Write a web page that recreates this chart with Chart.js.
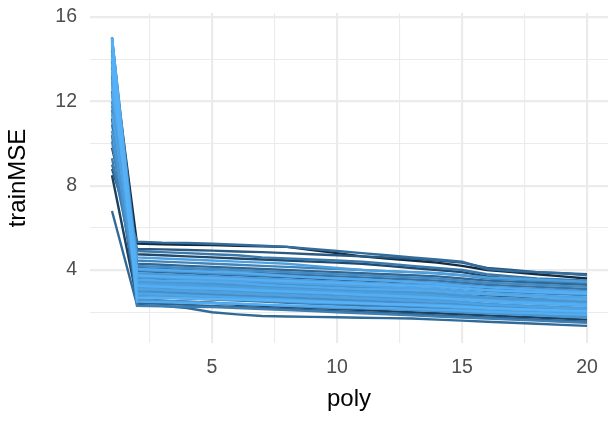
<!DOCTYPE html>
<html>
<head>
<meta charset="utf-8">
<script src="https://cdn.jsdelivr.net/npm/chart.js@4"></script>
<style>
  html, body { margin: 0; padding: 0; background: #fff; }
  #wrap { width: 608px; height: 421px; position: relative; }
</style>
</head>
<body>
<div id="wrap"><canvas id="chart"></canvas></div>
<script>
// polynomial degree on the x axis
const poly = [1, 2, 3, 4, 5, 6, 7, 8, 9, 10, 11, 12, 13, 14, 15, 16, 17, 18, 19, 20];

// training MSE, one row per simulation run
const trainMSE = [
  [14.4, 5.25, 5.22, 5.2, 5.18, 5.15, 5.12, 5.1, 4.95, 4.8, 4.65, 4.55, 4.45, 4.35, 4.2, 4.0, 3.9, 3.8, 3.7, 3.6],
  [8.5, 2.6, 2.55, 2.5, 2.45, 2.35, 2.3, 2.25, 2.2, 2.15, 2.1, 2.05, 2.0, 1.95, 1.9, 1.85, 1.8, 1.75, 1.7, 1.65],
  [9.8, 4.75, 4.7, 4.65, 4.6, 4.55, 4.5, 4.45, 4.4, 4.35, 4.3, 4.2, 4.1, 4.0, 3.9, 3.7, 3.6, 3.5, 3.45, 3.4],
  [13.9, 3.6, 3.55, 3.5, 3.45, 3.4, 3.35, 3.3, 3.25, 3.2, 3.15, 3.1, 3.05, 3.0, 2.9, 2.8, 2.75, 2.7, 2.65, 2.6],
  [11.2, 2.9, 2.85, 2.8, 2.75, 2.7, 2.55, 2.5, 2.45, 2.4, 2.35, 2.3, 2.25, 2.2, 2.1, 2.05, 2.0, 1.95, 1.9, 1.85],
  [8.8, 5.0, 4.98, 4.95, 4.92, 4.88, 4.85, 4.8, 4.75, 4.7, 4.65, 4.6, 4.55, 4.45, 4.35, 4.1, 4.0, 3.9, 3.85, 3.8],
  [12.5, 3.95, 3.9, 3.85, 3.8, 3.75, 3.7, 3.65, 3.6, 3.55, 3.5, 3.45, 3.4, 3.35, 3.25, 3.15, 3.1, 3.05, 3.0, 2.9],
  [10.4, 2.45, 2.4, 2.35, 2.3, 2.25, 2.2, 2.15, 2.1, 2.05, 2.0, 1.95, 1.9, 1.85, 1.8, 1.75, 1.7, 1.65, 1.6, 1.55],
  [14.0, 4.3, 4.25, 4.2, 4.15, 4.1, 4.05, 4.0, 3.95, 3.9, 3.85, 3.8, 3.75, 3.7, 3.6, 3.5, 3.45, 3.4, 3.35, 3.3],
  [6.8, 2.35, 2.3, 2.2, 2.0, 1.9, 1.82, 1.8, 1.78, 1.76, 1.74, 1.72, 1.7, 1.65, 1.6, 1.55, 1.5, 1.45, 1.4, 1.35],
  [9.0, 5.35, 5.3, 5.28, 5.25, 5.2, 5.15, 5.1, 5.0, 4.9, 4.8, 4.7, 4.6, 4.5, 4.4, 4.05, 3.95, 3.9, 3.85, 3.75],
  [13.2, 3.1, 3.05, 3.0, 2.95, 2.9, 2.85, 2.8, 2.75, 2.7, 2.65, 2.6, 2.55, 2.5, 2.4, 2.3, 2.25, 2.2, 2.15, 2.1],
  [10.9, 4.1, 4.05, 4.0, 3.95, 3.9, 3.85, 3.8, 3.75, 3.7, 3.65, 3.6, 3.55, 3.5, 3.4, 3.3, 3.25, 3.2, 3.15, 3.1],
  [14.8, 2.75, 2.7, 2.65, 2.6, 2.55, 2.5, 2.45, 2.4, 2.35, 2.3, 2.25, 2.2, 2.15, 2.1, 2.0, 1.95, 1.9, 1.85, 1.8],
  [12.0, 4.9, 4.85, 4.8, 4.75, 4.7, 4.6, 4.55, 4.5, 4.45, 4.4, 4.3, 4.2, 4.1, 4.0, 3.8, 3.7, 3.6, 3.55, 3.5],
  [9.3, 3.45, 3.4, 3.35, 3.3, 3.25, 3.2, 3.15, 3.1, 3.05, 3.0, 2.95, 2.9, 2.85, 2.75, 2.65, 2.6, 2.55, 2.5, 2.45],
  [13.6, 2.3, 2.28, 2.26, 2.24, 2.2, 2.15, 2.1, 2.05, 2.0, 1.95, 1.9, 1.85, 1.8, 1.75, 1.7, 1.65, 1.6, 1.55, 1.5],
  [11.6, 3.8, 3.75, 3.7, 3.65, 3.6, 3.55, 3.5, 3.45, 3.4, 3.35, 3.3, 3.25, 3.2, 3.1, 3.0, 2.95, 2.9, 2.85, 2.8],
  [15.0, 4.45, 4.4, 4.35, 4.3, 4.25, 4.2, 4.15, 4.1, 4.05, 4.0, 3.95, 3.9, 3.85, 3.75, 3.6, 3.55, 3.5, 3.45, 3.4],
  [10.1, 2.95, 2.9, 2.85, 2.8, 2.75, 2.7, 2.65, 2.6, 2.55, 2.5, 2.45, 2.4, 2.35, 2.3, 2.2, 2.15, 2.1, 2.05, 2.0],
  [14.2, 3.35, 3.3, 3.25, 3.2, 3.15, 3.1, 3.05, 3.0, 2.95, 2.9, 2.85, 2.8, 2.75, 2.65, 2.55, 2.5, 2.45, 2.4, 2.35],
  [12.9, 4.2, 4.15, 4.1, 4.05, 4.0, 3.95, 3.9, 3.85, 3.8, 3.75, 3.7, 3.65, 3.6, 3.5, 3.4, 3.35, 3.3, 3.25, 3.2],
  [14.6, 3.0, 2.95, 2.9, 2.85, 2.8, 2.75, 2.7, 2.65, 2.6, 2.55, 2.5, 2.45, 2.4, 2.35, 2.25, 2.2, 2.15, 2.1, 2.05],
  [11.8, 3.65, 3.6, 3.55, 3.5, 3.45, 3.4, 3.35, 3.3, 3.25, 3.2, 3.15, 3.1, 3.05, 2.95, 2.85, 2.8, 2.75, 2.7, 2.65],
  [15.05, 4.0, 3.95, 3.9, 3.85, 3.8, 3.75, 3.7, 3.65, 3.6, 3.55, 3.5, 3.45, 3.4, 3.3, 3.2, 3.15, 3.1, 3.05, 3.0],
  [13.4, 2.6, 2.55, 2.5, 2.45, 2.4, 2.35, 2.3, 2.25, 2.2, 2.18, 2.15, 2.1, 2.05, 2.0, 1.95, 1.9, 1.85, 1.8, 1.75],
  [14.9, 3.5, 3.45, 3.4, 3.35, 3.3, 3.25, 3.2, 3.15, 3.1, 3.05, 3.0, 2.95, 2.9, 2.8, 2.7, 2.65, 2.6, 2.55, 2.5],
  [10.6, 3.2, 3.15, 3.1, 3.05, 3.0, 2.95, 2.9, 2.85, 2.8, 2.75, 2.7, 2.65, 2.6, 2.5, 2.4, 2.35, 2.3, 2.25, 2.2],
  [14.5, 3.85, 3.8, 3.75, 3.7, 3.65, 3.6, 3.55, 3.5, 3.45, 3.4, 3.35, 3.3, 3.25, 3.15, 3.05, 3.0, 2.95, 2.9, 2.85],
  [12.3, 2.8, 2.75, 2.7, 2.65, 2.6, 2.55, 2.5, 2.45, 2.42, 2.4, 2.35, 2.3, 2.25, 2.2, 2.1, 2.05, 2.0, 1.95, 1.9],
  [15.0, 3.4, 3.35, 3.3, 3.25, 3.2, 3.15, 3.1, 3.05, 3.0, 2.95, 2.9, 2.85, 2.8, 2.7, 2.6, 2.55, 2.5, 2.45, 2.4],
  [13.0, 4.6, 4.55, 4.5, 4.45, 4.4, 4.35, 4.3, 4.2, 4.1, 4.0, 3.95, 3.9, 3.85, 3.75, 3.65, 3.6, 3.55, 3.5, 3.45],
  [14.7, 3.1, 3.05, 3.0, 2.95, 2.9, 2.85, 2.8, 2.75, 2.7, 2.65, 2.6, 2.55, 2.5, 2.45, 2.35, 2.3, 2.25, 2.2, 2.15],
  [11.4, 3.7, 3.65, 3.6, 3.55, 3.5, 3.45, 3.4, 3.35, 3.3, 3.25, 3.2, 3.15, 3.1, 3.0, 2.9, 2.85, 2.8, 2.75, 2.7],
  [14.95, 2.9, 2.85, 2.8, 2.75, 2.7, 2.65, 2.6, 2.55, 2.5, 2.45, 2.4, 2.38, 2.35, 2.3, 2.2, 2.15, 2.1, 2.05, 2.0],
  [13.8, 3.3, 3.25, 3.2, 3.15, 3.1, 3.05, 3.0, 2.95, 2.9, 2.85, 2.8, 2.75, 2.7, 2.6, 2.5, 2.45, 2.4, 2.35, 2.3],
  [14.3, 3.55, 3.5, 3.48, 3.45, 3.4, 3.3, 3.25, 3.2, 3.15, 3.1, 3.08, 3.05, 3.0, 2.9, 2.85, 2.8, 2.72, 2.65, 2.6],
  [12.7, 4.05, 4.0, 3.96, 3.92, 3.88, 3.8, 3.72, 3.65, 3.6, 3.55, 3.5, 3.42, 3.35, 3.25, 3.18, 3.12, 3.06, 3.0, 2.95],
  [14.85, 2.5, 2.48, 2.45, 2.42, 2.4, 2.36, 2.32, 2.3, 2.26, 2.22, 2.2, 2.16, 2.12, 2.08, 2.02, 1.98, 1.95, 1.9, 1.88],
  [13.5, 3.25, 3.2, 3.15, 3.12, 3.08, 3.02, 2.98, 2.95, 2.9, 2.82, 2.78, 2.72, 2.66, 2.6, 2.55, 2.48, 2.44, 2.4, 2.36],
  [15.0, 3.75, 3.7, 3.66, 3.62, 3.58, 3.52, 3.48, 3.44, 3.4, 3.35, 3.3, 3.26, 3.22, 3.12, 3.05, 3.0, 2.96, 2.92, 2.88],
  [14.1, 2.7, 2.68, 2.65, 2.62, 2.6, 2.58, 2.54, 2.5, 2.46, 2.42, 2.38, 2.35, 2.3, 2.25, 2.2, 2.15, 2.12, 2.08, 2.05]
];

// grid positions (major ones get labels)
const xTicks = [2.5, 5, 7.5, 10, 12.5, 15, 17.5, 20];
const yTicks = [2, 4, 6, 8, 10, 12, 14, 16];

// ggplot-ish continuous colour scale, dark navy -> light blue
const lo = [19, 43, 67];
const hi = [86, 177, 247];
function shade(t) {
  const c = lo.map((v, k) => Math.round(v + (hi[k] - v) * t));
  return 'rgb(' + c.join(',') + ')';
}

const n = trainMSE.length;
const datasets = trainMSE.map((run, i) => ({
  data: poly.map((p, j) => ({ x: p, y: run[j] })),
  borderColor: shade(Math.pow(i / (n - 1), 0.5)),
  borderWidth: 2.4,
  pointRadius: 0,
  tension: 0,
  fill: false,
  order: n - i
}));

const font = "'Liberation Sans', Arial, Helvetica, sans-serif";
const gridColor = '#EBEBEB';

new Chart(document.getElementById('chart'), {
  type: 'line',
  data: { datasets },
  options: {
    responsive: true,
    maintainAspectRatio: false,
    animation: false,
    layout: { padding: { top: 13, right: 0, left: 0, bottom: 0 } },
    plugins: { legend: { display: false }, tooltip: { enabled: false } },
    scales: {
      x: {
        type: 'linear',
        min: 0.12,
        max: 20.84,
        afterBuildTicks: (s) => { s.ticks = xTicks.map(v => ({ value: v })); },
        afterFit: (s) => { s.height = 78; s.paddingLeft = 0; s.paddingRight = 0; },
        border: { display: false },
        grid: {
          color: gridColor,
          drawTicks: false,
          lineWidth: (ctx) => (ctx.tick && ctx.tick.value % 5 === 0 ? 2.2 : 1.1)
        },
        ticks: {
          autoSkip: false,
          maxRotation: 0,
          padding: 13,
          color: '#4D4D4D',
          font: { family: font, size: 19.5 },
          callback: (v) => (v % 5 === 0 ? String(v) : '')
        },
        title: {
          display: true,
          text: 'poly',
          color: '#000',
          font: { family: font, size: 24 },
          padding: { top: 0, bottom: 7 }
        }
      },
      y: {
        min: 0.54,
        max: 16.19,
        afterBuildTicks: (s) => { s.ticks = yTicks.map(v => ({ value: v })); },
        afterFit: (s) => { s.width = 90; s.paddingTop = 0; s.paddingBottom = 0; },
        border: { display: false },
        grid: {
          color: gridColor,
          drawTicks: false,
          lineWidth: (ctx) => (ctx.tick && ctx.tick.value % 4 === 0 ? 2.2 : 1.1)
        },
        ticks: {
          autoSkip: false,
          padding: 13,
          color: '#4D4D4D',
          font: { family: font, size: 19.5 },
          callback: (v) => (v % 4 === 0 ? String(v) : '')
        },
        title: {
          display: true,
          text: 'trainMSE',
          color: '#000',
          font: { family: font, size: 24 },
          padding: { top: 4, bottom: 0 }
        }
      }
    }
  }
});
</script>
</body>
</html>
